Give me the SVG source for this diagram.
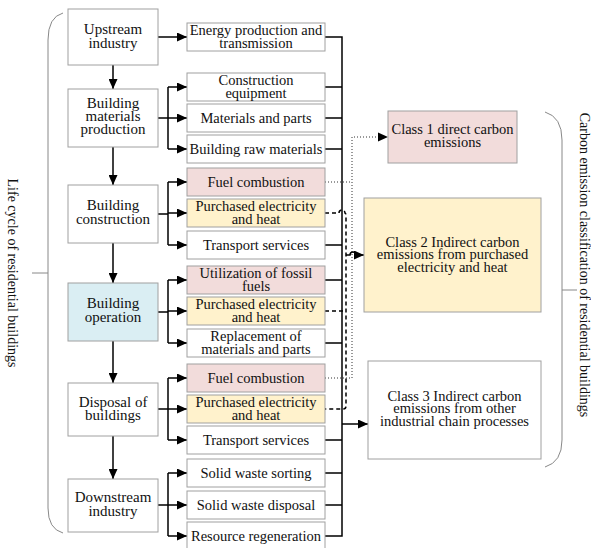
<svg xmlns="http://www.w3.org/2000/svg" width="591" height="548" viewBox="0 0 591 548">
<style>
text{text-anchor:middle;fill:#111}
.lt{font-size:15px}
.mt{font-size:14.5px}
.side{font-size:14px}
.box{stroke:#a0a0a0;stroke-width:1;fill:#fff}
.pink{fill:#f2dcdb}
.yel{fill:#fff2cc}
.blue{fill:#daeef3}
.ln{stroke:#000;stroke-width:1.5;fill:none}
.arr{stroke:#000;stroke-width:1.5;fill:none;marker-end:url(#ah)}
.dot{stroke:#333;stroke-width:1;fill:none;stroke-dasharray:1 2}
.dash{stroke:#000;stroke-width:1.5;fill:none;stroke-dasharray:4 3}
.br{stroke:#888;stroke-width:1;fill:none}
</style>
<defs>
<marker id="ah" markerUnits="userSpaceOnUse" markerWidth="10" markerHeight="9" refX="10" refY="4.5" orient="auto">
<path d="M0,0 L10,4.5 L0,9 Z" fill="#000"/>
</marker>
</defs>
<g font-family="'Liberation Serif', 'Times New Roman', Times, 'DejaVu Serif', serif">

<g id="brackets">
<path class="br" d="M63,13 Q48,17 48,40 L48,508 Q48,529 63,533"/>
<path class="br" d="M32,273 H48"/>
<path class="br" d="M545,112 Q562,117 562,140 L562,440 Q562,462 545,467"/>
<path class="br" d="M562,290 H577"/>
<text class="side" transform="translate(8,273) rotate(90)">Life cycle of residential buildings</text>
<text class="side" transform="translate(580,265) rotate(90)">Carbon emission classification of residential buildings</text>
</g>

<g id="connectors">
<path class="arr" d="M113,65 V89"/>
<path class="arr" d="M113,147 V185"/>
<path class="arr" d="M113,243 V283"/>
<path class="arr" d="M113,341 V383"/>
<path class="arr" d="M113,436 V479"/>
<path class="arr" d="M158,37 H187"/>
<path class="ln" d="M158,118 H168 M168,87 V149"/>
<path class="arr" d="M168,87 H187"/><path class="arr" d="M168,118 H187"/><path class="arr" d="M168,149 H187"/>
<path class="ln" d="M158,214 H168 M168,182 V245"/>
<path class="arr" d="M168,182 H187"/><path class="arr" d="M168,213 H187"/><path class="arr" d="M168,245 H187"/>
<path class="ln" d="M158,312 H168 M168,280 V343"/>
<path class="arr" d="M168,280 H187"/><path class="arr" d="M168,311 H187"/><path class="arr" d="M168,343 H187"/>
<path class="ln" d="M158,409 H168 M168,378 V440"/>
<path class="arr" d="M168,378 H187"/><path class="arr" d="M168,409 H187"/><path class="arr" d="M168,440 H187"/>
<path class="ln" d="M158,505 H168 M168,473 V536"/>
<path class="arr" d="M168,473 H187"/><path class="arr" d="M168,505 H187"/><path class="arr" d="M168,536 H187"/>
<path class="ln" d="M325,37 H342 V536 H325"/>
<path class="ln" d="M325,87 H342 M325,118 H342 M325,149 H342 M325,245 H342 M325,280 H342 M325,343 H342 M325,440 H342 M325,473 H342 M325,505 H342"/>
<path class="arr" d="M342,424 H368"/>
<path class="dot" d="M325,182 H352"/>
<path class="dot" d="M325,378 H352 V137 H386"/>
<path d="M378,132.5 L388,137 L378,141.5 Z" fill="#000"/>
<path class="dash" d="M325,213 H339 A3,3 0 0 1 345,213 Q346,213 346,216 V406 Q346,409 343,409 H325"/>
<path class="dash" d="M325,311 H346"/>
<path class="ln" d="M346,255 H350 A3,3 0 0 1 356,255 H356"/>
<path class="arr" d="M356,255 H364"/>
</g>

<g id="n-upstream"><rect class="box" x="68" y="9" width="90" height="56"/><text class="lt" x="113" y="34">Upstream</text><text class="lt" x="113" y="48">industry</text></g>
<g id="n-materials"><rect class="box" x="68" y="89" width="90" height="58"/><text class="lt" x="113" y="108">Building</text><text class="lt" x="113" y="121">materials</text><text class="lt" x="113" y="134">production</text></g>
<g id="n-construction"><rect class="box" x="68" y="185" width="90" height="58"/><text class="lt" x="113" y="210">Building</text><text class="lt" x="113" y="224">construction</text></g>
<g id="n-operation"><rect class="box blue" x="68" y="283" width="90" height="58"/><text class="lt" x="113" y="308">Building</text><text class="lt" x="113" y="322">operation</text></g>
<g id="n-disposal"><rect class="box" x="68" y="383" width="90" height="53"/><text class="lt" x="113" y="407">Disposal of</text><text class="lt" x="113" y="420">buildings</text></g>
<g id="n-downstream"><rect class="box" x="68" y="479" width="90" height="53"/><text class="lt" x="113" y="502">Downstream</text><text class="lt" x="113" y="516">industry</text></g>

<g id="p-energy"><rect class="box" x="187" y="23" width="138" height="28"/><text class="mt" x="256" y="35">Energy production and</text><text class="mt" x="256" y="48">transmission</text></g>
<g id="p-equipment"><rect class="box" x="187" y="73" width="138" height="28"/><text class="mt" x="256" y="85">Construction</text><text class="mt" x="256" y="98">equipment</text></g>
<g id="p-matparts"><rect class="box" x="187" y="104" width="138" height="28"/><text class="mt" x="256" y="123">Materials and parts</text></g>
<g id="p-raw"><rect class="box" x="187" y="135" width="138" height="28"/><text class="mt" x="256" y="154">Building raw materials</text></g>
<g id="p-fuel1"><rect class="box pink" x="187" y="168" width="138" height="28"/><text class="mt" x="256" y="187">Fuel combustion</text></g>
<g id="p-elec1"><rect class="box yel" x="187" y="199" width="138" height="28"/><text class="mt" x="256" y="211">Purchased electricity</text><text class="mt" x="256" y="224">and heat</text></g>
<g id="p-transport1"><rect class="box" x="187" y="231" width="138" height="28"/><text class="mt" x="256" y="250">Transport services</text></g>
<g id="p-fossil"><rect class="box pink" x="187" y="266" width="138" height="28"/><text class="mt" x="256" y="278">Utilization of fossil</text><text class="mt" x="256" y="291">fuels</text></g>
<g id="p-elec2"><rect class="box yel" x="187" y="297" width="138" height="28"/><text class="mt" x="256" y="309">Purchased electricity</text><text class="mt" x="256" y="322">and heat</text></g>
<g id="p-replace"><rect class="box" x="187" y="329" width="138" height="28"/><text class="mt" x="256" y="341">Replacement of</text><text class="mt" x="256" y="354">materials and parts</text></g>
<g id="p-fuel2"><rect class="box pink" x="187" y="364" width="138" height="28"/><text class="mt" x="256" y="383">Fuel combustion</text></g>
<g id="p-elec3"><rect class="box yel" x="187" y="395" width="138" height="28"/><text class="mt" x="256" y="407">Purchased electricity</text><text class="mt" x="256" y="420">and heat</text></g>
<g id="p-transport2"><rect class="box" x="187" y="426" width="138" height="28"/><text class="mt" x="256" y="445">Transport services</text></g>
<g id="p-sorting"><rect class="box" x="187" y="459" width="138" height="28"/><text class="mt" x="256" y="478">Solid waste sorting</text></g>
<g id="p-wdisposal"><rect class="box" x="187" y="491" width="138" height="28"/><text class="mt" x="256" y="510">Solid waste disposal</text></g>
<g id="p-regen"><rect class="box" x="187" y="522" width="138" height="28"/><text class="mt" x="256" y="541">Resource regeneration</text></g>

<g id="c-class1"><rect class="box pink" x="388" y="111" width="129" height="52"/><text class="mt" x="452.5" y="134">Class 1 direct carbon</text><text class="mt" x="452.5" y="147">emissions</text></g>
<g id="c-class2"><rect class="box yel" x="364" y="198" width="177" height="114"/><text class="mt" x="452.5" y="247">Class 2 Indirect carbon</text><text class="mt" x="452.5" y="259">emissions from purchased</text><text class="mt" x="452.5" y="272">electricity and heat</text></g>
<g id="c-class3"><rect class="box" x="368" y="361" width="173" height="98"/><text class="mt" x="454.5" y="401">Class 3 Indirect carbon</text><text class="mt" x="454.5" y="413">emissions from other</text><text class="mt" x="454.5" y="426">industrial chain processes</text></g>
</g>
</svg>
